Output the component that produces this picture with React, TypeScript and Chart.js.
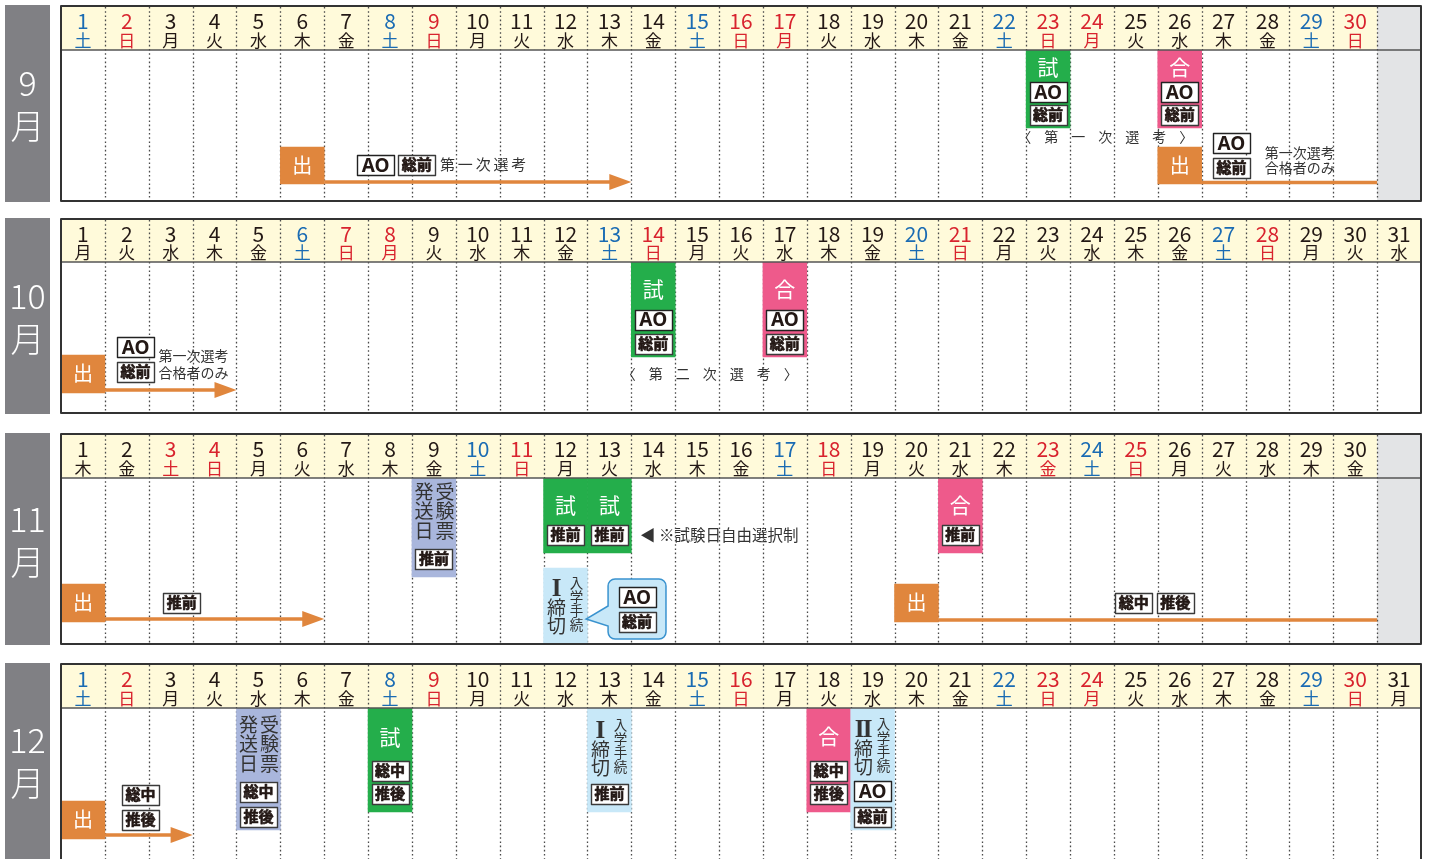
import React, { useEffect, useRef } from "react";
import { Chart, registerables } from "chart.js";

Chart.register(...registerables);

// ---------- data ----------
const DAY_LABELS = ["1","2","3","4","5","6","7","8","9","10","11","12","13","14","15","16","17","18","19","20","21","22","23","24","25","26","27","28","29","30","31"];
const WEEKDAY_NAMES = ["日", "月", "火", "水", "木", "金", "土"];
const MONTH_NAMES = ["9", "10", "11", "12"];
const MONTH_LENGTHS = [30, 31, 30, 31];
const FIRST_WEEKDAYS = [6, 1, 4, 6];
const SEP_HOLIDAYS = [17, 24];
const OCT_HOLIDAYS = [8];
const NOV_HOLIDAYS = [3, 23];
const DEC_HOLIDAYS = [24];

type Block = { day: number; kind: string; from: number; to: number; mark?: number };
type Tag = { x: number; y: number; label: string };
type Arrow = { from: number; to: number; y: number; head: boolean };
type Note = { x: number; y: number; text: string; style: string };
type Callout = { x0: number; x1: number; y0: number; y1: number; tipX: number; tipY: number; base0: number; base1: number };

// September
const SEP_BLOCKS: Block[] = [
  { day: 23, kind: "exam", from: 0, to: 78, mark: 17 },
  { day: 26, kind: "pass", from: 0, to: 78, mark: 17 },
  { day: 6, kind: "apply", from: 97, to: 134 },
  { day: 26, kind: "apply", from: 97, to: 134 },
];
const SEP_TAGS: Tag[] = [
  { x: 23, y: 42, label: "AO" }, { x: 23, y: 65, label: "総前" },
  { x: 26, y: 42, label: "AO" }, { x: 26, y: 65, label: "総前" },
  { x: 7.67, y: 115, label: "AO" }, { x: 8.61, y: 115, label: "総前" },
  { x: 27.18, y: 93, label: "AO" }, { x: 27.18, y: 118, label: "総前" },
];
const SEP_ARROWS: Arrow[] = [
  { from: 6.5, to: 13.5, y: 132, head: true },
  { from: 26.5, to: 30.5, y: 132.5, head: false },
];
const SEP_NOTES: Note[] = [
  { x: 24.3, y: 87, text: "〈第一次選考〉", style: "spread" },
  { x: 9.14, y: 115, text: "第一次選考", style: "spaced" },
  { x: 27.94, y: 103, text: "第一次選考", style: "plain" },
  { x: 27.94, y: 118, text: "合格者のみ", style: "plain" },
];

// October
const OCT_BLOCKS: Block[] = [
  { day: 14, kind: "exam", from: 0, to: 95, mark: 27 },
  { day: 17, kind: "pass", from: 0, to: 95, mark: 27 },
  { day: 1, kind: "apply", from: 93, to: 131 },
];
const OCT_TAGS: Tag[] = [
  { x: 14, y: 57.5, label: "AO" }, { x: 14, y: 82, label: "総前" },
  { x: 17, y: 57.5, label: "AO" }, { x: 17, y: 82, label: "総前" },
  { x: 2.2, y: 85, label: "AO" }, { x: 2.2, y: 109.5, label: "総前" },
];
const OCT_ARROWS: Arrow[] = [{ from: 1.5, to: 4.5, y: 128, head: true }];
const OCT_NOTES: Note[] = [
  { x: 15.29, y: 111.5, text: "〈第二次選考〉", style: "spread" },
  { x: 2.72, y: 94, text: "第一次選考", style: "plain" },
  { x: 2.72, y: 110.5, text: "合格者のみ", style: "plain" },
];

// November
const NOV_BLOCKS: Block[] = [
  { day: 9, kind: "ticket", from: 0, to: 99, mark: 14 },
  { day: 12, kind: "exam", from: 0, to: 75, mark: 27 },
  { day: 13, kind: "exam", from: 0, to: 75, mark: 27 },
  { day: 21, kind: "pass", from: 0, to: 75, mark: 27 },
  { day: 12, kind: "deadline1", from: 90, to: 166, mark: 109 },
  { day: 1, kind: "apply", from: 106, to: 144 },
  { day: 20, kind: "apply", from: 106, to: 144 },
];
const NOV_TAGS: Tag[] = [
  { x: 9, y: 81, label: "推前" },
  { x: 12, y: 57, label: "推前" }, { x: 13, y: 57, label: "推前" },
  { x: 21, y: 57, label: "推前" },
  { x: 13.63, y: 118.7, label: "AO" }, { x: 13.63, y: 143.7, label: "総前" },
  { x: 3.25, y: 125, label: "推前" },
  { x: 24.95, y: 125, label: "総中" }, { x: 25.9, y: 125, label: "推後" },
];
const NOV_ARROWS: Arrow[] = [
  { from: 1.5, to: 6.5, y: 141, head: true },
  { from: 20.5, to: 30.5, y: 142, head: false },
];
const NOV_NOTES: Note[] = [{ x: 13.7, y: 57, text: "◀ ※試験日自由選択制", style: "plainLarge" }];
const NOV_CALLOUTS: Callout[] = [
  { x0: 12.97, x1: 14.29, y0: 101, y1: 161, tipX: 12.47, tipY: 141, base0: 128, base1: 148 },
];

// December
const DEC_BLOCKS: Block[] = [
  { day: 5, kind: "ticket", from: 0, to: 122, mark: 17 },
  { day: 8, kind: "exam", from: 0, to: 104, mark: 29 },
  { day: 13, kind: "deadline1", from: 0, to: 104, mark: 21 },
  { day: 18, kind: "pass", from: 0, to: 104, mark: 28 },
  { day: 19, kind: "deadline2", from: 0, to: 122, mark: 20 },
  { day: 1, kind: "apply", from: 93, to: 131 },
];
const DEC_TAGS: Tag[] = [
  { x: 5, y: 84, label: "総中" }, { x: 5, y: 109, label: "推後" },
  { x: 8, y: 63, label: "総中" }, { x: 8, y: 86, label: "推後" },
  { x: 13, y: 86, label: "推前" },
  { x: 18, y: 63, label: "総中" }, { x: 18, y: 86, label: "推後" },
  { x: 19, y: 83, label: "AO" }, { x: 19, y: 109, label: "総前" },
  { x: 2.31, y: 87, label: "総中" }, { x: 2.31, y: 112, label: "推後" },
];
const DEC_ARROWS: Arrow[] = [{ from: 1.5, to: 3.5, y: 127, head: true }];

// ---------- styles / layout ----------
const JP = "'Noto Sans CJK JP', 'Noto Sans', sans-serif";
const INK = "#231815";
const TEXT_GRAY = "#333333";
const RED = "#D8232E";
const BLUE = "#1A6BB3";
const CREAM = "#FFFADA";
const FILLER = "#E3E4E6";
const LABEL_GRAY = "#808084";
const ORANGE = "#E0863D";
const KIND_COLORS: Record<string, string> = {
  ticket: "#A9B6DC",
  deadline1: "#C8E8F8",
  deadline2: "#C8E8F8",
  exam: "#24AE4B",
  pass: "#EE5A8B",
  apply: ORANGE,
};
const KIND_ORDER = ["ticket", "deadline1", "deadline2", "exam", "pass", "apply"];
const KIND_MARKS: Record<string, string> = { exam: "試", pass: "合", apply: "出" };

const PANEL_LAYOUT = [
  { top: 5, headerH: 45, bodyH: 151 },
  { top: 218, headerH: 44, bodyH: 151 },
  { top: 433, headerH: 45, bodyH: 166 },
  { top: 663, headerH: 45, bodyH: 160 },
];

const PANELS = [
  { holidays: SEP_HOLIDAYS, blocks: SEP_BLOCKS, tags: SEP_TAGS, arrows: SEP_ARROWS, notes: SEP_NOTES, callouts: [] as Callout[] },
  { holidays: OCT_HOLIDAYS, blocks: OCT_BLOCKS, tags: OCT_TAGS, arrows: OCT_ARROWS, notes: OCT_NOTES, callouts: [] as Callout[] },
  { holidays: NOV_HOLIDAYS, blocks: NOV_BLOCKS, tags: NOV_TAGS, arrows: NOV_ARROWS, notes: NOV_NOTES, callouts: NOV_CALLOUTS },
  { holidays: DEC_HOLIDAYS, blocks: DEC_BLOCKS, tags: DEC_TAGS, arrows: DEC_ARROWS, notes: [] as Note[], callouts: [] as Callout[] },
];

// ---------- drawing helpers ----------
function txt(ctx: CanvasRenderingContext2D, s: string, x: number, cy: number, size: number, weight: string, family: string, color: string, align: CanvasTextAlign = "center", boldStroke = 0) {
  ctx.font = `${weight} ${size}px ${family}`;
  ctx.fillStyle = color;
  ctx.textAlign = align;
  ctx.textBaseline = "alphabetic";
  ctx.fillText(s, x, cy + 0.36 * size);
  if (boldStroke > 0) {
    ctx.strokeStyle = color;
    ctx.lineWidth = boldStroke;
    ctx.lineJoin = "round";
    ctx.strokeText(s, x, cy + 0.36 * size);
  }
}

function drawTag(ctx: CanvasRenderingContext2D, cx: number, cy: number, label: string) {
  const w = 37, h = 20;
  const x = Math.round(cx - w / 2) + 0.5;
  const y = Math.round(cy - h / 2) + 0.5;
  ctx.fillStyle = "#ffffff";
  ctx.fillRect(x, y, w, h);
  ctx.strokeStyle = label === "AO" ? "#222" : "#3a3a3a";
  ctx.lineWidth = 1.4;
  ctx.strokeRect(x, y, w, h);
  if (label === "AO") {
    txt(ctx, label, cx, cy, 19, "700", `'Noto Sans', ${JP}`, INK);
  } else {
    txt(ctx, label, cx, cy, 15, "700", JP, INK, "center", 0.7);
  }
}

function makePlugin(index: number) {
  const panel = PANELS[index];
  const days = MONTH_LENGTHS[index];
  const first = FIRST_WEEKDAYS[index];
  const layout = PANEL_LAYOUT[index];
  return {
    id: "calendarPanel" + index,
    beforeDatasetsDraw(chart: any) {
      const ctx: CanvasRenderingContext2D = chart.ctx;
      const area = chart.chartArea;
      const xs = chart.scales.x;
      const px = (d: number) => xs.getPixelForValue(d - 1);
      const headerH = area.top;
      const bottom = area.bottom;
      ctx.save();
      // month label
      ctx.fillStyle = LABEL_GRAY;
      ctx.fillRect(5, 0, 45, bottom + 1);
      const visH = Math.min(bottom + 2, 859 - layout.top);
      txt(ctx, MONTH_NAMES[index], 27.5, visH / 2 - 20, 34, "300", JP, "#ffffff");
      txt(ctx, "月", 27.5, visH / 2 + 23, 34, "300", JP, "#ffffff");
      // header cream
      ctx.fillStyle = CREAM;
      ctx.fillRect(px(0.5), 2, px(days + 0.5) - px(0.5), headerH - 2);
      // filler columns
      if (days < 31) {
        ctx.fillStyle = FILLER;
        ctx.fillRect(px(days + 0.5), 2, area.right - px(days + 0.5), bottom - 2);
      }
      // dotted separators
      ctx.strokeStyle = "#4a4a4a";
      ctx.lineWidth = 1.3;
      ctx.setLineDash([1.6, 2.6]);
      for (let d = 1; d < 31; d++) {
        const x = Math.round(px(d + 0.5)) + 0.5;
        ctx.beginPath();
        ctx.moveTo(x, 2);
        ctx.lineTo(x, bottom);
        ctx.stroke();
      }
      ctx.setLineDash([]);
      // header labels
      for (let d = 1; d <= days; d++) {
        const wd = (first + d - 1) % 7;
        const color = panel.holidays.includes(d) || wd === 0 ? RED : wd === 6 ? BLUE : INK;
        txt(ctx, DAY_LABELS[d - 1], px(d), headerH * 0.37, 21, "400", JP, color);
        txt(ctx, WEEKDAY_NAMES[wd], px(d), headerH * 0.79, 17, "400", JP, color);
      }
      ctx.restore();
    },
    afterDatasetsDraw(chart: any) {
      const ctx: CanvasRenderingContext2D = chart.ctx;
      const area = chart.chartArea;
      const xs = chart.scales.x;
      const ys = chart.scales.y;
      const px = (d: number) => xs.getPixelForValue(d - 1);
      const py = (v: number) => ys.getPixelForValue(v);
      ctx.save();
      // header line
      ctx.strokeStyle = "#555";
      ctx.lineWidth = 1.5;
      ctx.beginPath();
      ctx.moveTo(area.left, area.top);
      ctx.lineTo(area.right, area.top);
      ctx.stroke();

      // block marks
      for (const b of panel.blocks) {
        const cx = px(b.day);
        if (b.kind === "exam" || b.kind === "pass") {
          txt(ctx, KIND_MARKS[b.kind], cx, py(b.mark ?? 20), 21, "400", JP, "#ffffff");
        } else if (b.kind === "apply") {
          txt(ctx, KIND_MARKS.apply, cx, py((b.from + b.to) / 2), 20, "400", JP, "#ffffff");
        } else if (b.kind === "ticket") {
          const m = b.mark ?? 15;
          const right = "受験票", left = "発送日";
          for (let i = 0; i < 3; i++) {
            txt(ctx, right[i], cx + 11, py(m + i * 19.5), 19, "400", JP, TEXT_GRAY);
            txt(ctx, left[i], cx - 10, py(m + i * 19.5), 19, "400", JP, TEXT_GRAY);
          }
        } else if (b.kind === "deadline1" || b.kind === "deadline2") {
          const m = b.mark ?? 20;
          const nx = cx - 9;
          ctx.font = "700 25px 'Liberation Serif', 'DejaVu Serif', serif";
          ctx.fillStyle = TEXT_GRAY;
          ctx.textAlign = "center";
          ctx.textBaseline = "alphabetic";
          if (b.kind === "deadline1") {
            ctx.fillText("I", nx, py(m) + 8.5);
          } else {
            ctx.fillText("I", nx - 4, py(m) + 8.5);
            ctx.fillText("I", nx + 4, py(m) + 8.5);
          }
          txt(ctx, "締", nx, py(m + 21), 19, "400", JP, TEXT_GRAY);
          txt(ctx, "切", nx, py(m + 39), 19, "400", JP, TEXT_GRAY);
          const small = "入学手続";
          for (let i = 0; i < 4; i++) {
            txt(ctx, small[i], cx + 11, py(m - 4 + i * 14), 13.5, "400", JP, TEXT_GRAY);
          }
        }
      }

      // arrows / lines
      ctx.strokeStyle = ORANGE;
      ctx.fillStyle = ORANGE;
      ctx.lineWidth = 3.5;
      for (const a of panel.arrows) {
        const x0 = px(a.from), x1 = px(a.to), y = py(a.y);
        ctx.beginPath();
        ctx.moveTo(x0, y);
        ctx.lineTo(a.head ? x1 - 20 : x1, y);
        ctx.stroke();
        if (a.head) {
          ctx.beginPath();
          ctx.moveTo(x1, y);
          ctx.lineTo(x1 - 22, y - 8);
          ctx.lineTo(x1 - 22, y + 8);
          ctx.closePath();
          ctx.fill();
        }
      }

      // callouts
      for (const c of panel.callouts) {
        const x0 = px(c.x0), x1 = px(c.x1), y0 = py(c.y0), y1 = py(c.y1), r = 7;
        ctx.beginPath();
        ctx.moveTo(x0 + r, y0);
        ctx.arcTo(x1, y0, x1, y1, r);
        ctx.arcTo(x1, y1, x0, y1, r);
        ctx.arcTo(x0, y1, x0, y0, r);
        ctx.lineTo(x0, py(c.base1));
        ctx.lineTo(px(c.tipX), py(c.tipY));
        ctx.lineTo(x0, py(c.base0));
        ctx.arcTo(x0, y0, x1, y0, r);
        ctx.closePath();
        ctx.fillStyle = "#C8E8F8";
        ctx.fill();
        ctx.strokeStyle = "#3A93CF";
        ctx.lineWidth = 1.5;
        ctx.stroke();
      }

      // tags
      for (const t of panel.tags) drawTag(ctx, px(t.x), py(t.y), t.label);

      // notes
      for (const n of panel.notes) {
        const x = px(n.x), y = py(n.y);
        if (n.style === "spread") {
          const chars = Array.from(n.text);
          const mid = (chars.length - 1) / 2;
          chars.forEach((ch, i) => txt(ctx, ch, x + (i - mid) * 27, y, 14, "400", JP, TEXT_GRAY));
        } else if (n.style === "spaced") {
          Array.from(n.text).forEach((ch, i) => txt(ctx, ch, x + 7.5 + i * 17.8, y, 15, "400", JP, TEXT_GRAY));
        } else if (n.style === "plainLarge") {
          txt(ctx, n.text, x, y, 15.5, "400", JP, TEXT_GRAY, "left");
        } else {
          txt(ctx, n.text, x, y, 14, "400", JP, TEXT_GRAY, "left");
        }
      }

      // frame
      ctx.strokeStyle = "#333";
      ctx.lineWidth = 2;
      ctx.strokeRect(area.left, 1, area.right - area.left, area.bottom - 1);
      ctx.restore();
    },
  };
}

function MonthPanel({ index }: { index: number }) {
  const ref = useRef<HTMLCanvasElement | null>(null);
  const layout = PANEL_LAYOUT[index];
  const H = layout.headerH + layout.bodyH + 2;
  useEffect(() => {
    const canvas = ref.current;
    if (!canvas) return;
    const panel = PANELS[index];
    const datasets = KIND_ORDER.map((kind) => ({
      label: kind,
      data: panel.blocks
        .filter((b) => b.kind === kind)
        .map((b) => ({ x: DAY_LABELS[b.day - 1], y: [b.from, b.to] })),
      backgroundColor: KIND_COLORS[kind],
      borderWidth: 0,
      grouped: false,
      categoryPercentage: 1,
      barPercentage: 1,
    }));
    const chart = new Chart(canvas, {
      type: "bar",
      data: { labels: DAY_LABELS, datasets: datasets as any },
      options: {
        responsive: false,
        animation: false,
        events: [],
        layout: { padding: { left: 61, right: 9, top: layout.headerH, bottom: 2 } },
        scales: {
          x: { type: "category", display: false, offset: true },
          y: { type: "linear", display: false, min: 0, max: layout.bodyH, reverse: true },
        },
        plugins: { legend: { display: false }, tooltip: { enabled: false } },
      },
      plugins: [makePlugin(index) as any],
    });
    return () => chart.destroy();
  }, [index]);
  return (
    <div style={{ position: "absolute", left: 0, top: layout.top, width: 1430, height: H }}>
      <canvas ref={ref} width={1430} height={H} style={{ display: "block" }} />
    </div>
  );
}

export default function App() {
  return (
    <div style={{ position: "absolute", left: 0, top: 0, width: 1430, height: 859, overflow: "hidden", background: "#ffffff" }}>
      {PANELS.map((_, i) => (
        <MonthPanel key={i} index={i} />
      ))}
    </div>
  );
}
